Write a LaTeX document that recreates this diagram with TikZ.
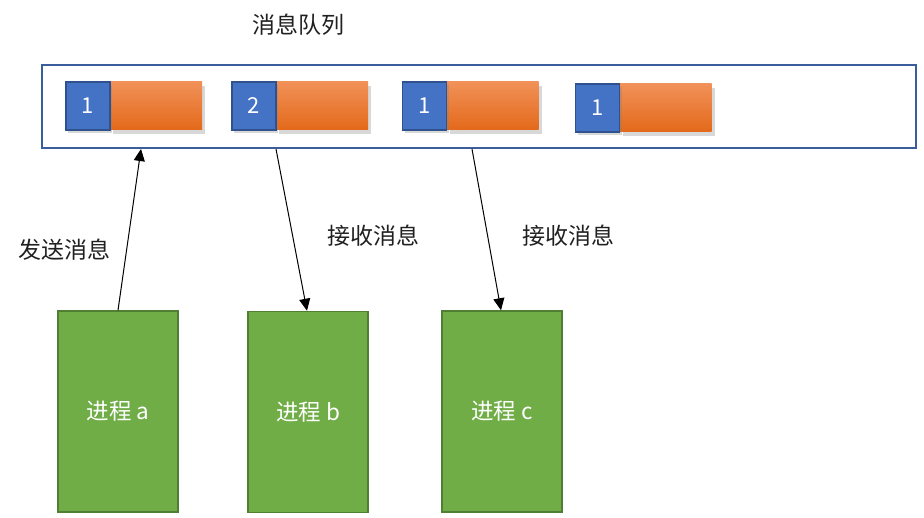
\documentclass[tikz,border=0pt]{standalone}
\usepackage{fontspec}
\setmainfont{Noto Sans CJK SC}
\usetikzlibrary{arrows.meta,shadows,calc}
\definecolor{qborder}{HTML}{3A5E9C}
\definecolor{bluefill}{HTML}{4472C4}
\definecolor{blueborder}{HTML}{2F528F}
\definecolor{orangetop}{HTML}{F19158}
\definecolor{orangebot}{HTML}{E3691A}
\definecolor{greenfill}{HTML}{70AD47}
\definecolor{greenborder}{HTML}{507E32}
\definecolor{txt}{HTML}{202020}
\tikzset{
  queuebox/.style={draw=qborder, line width=2pt, fill=white, minimum width=874pt, minimum height=83pt, inner sep=0pt},
  idbox/.style={draw=blueborder, line width=1.2pt, fill=bluefill, minimum width=44pt, minimum height=48pt, inner sep=0pt, text=white, font=\fontsize{22pt}{24pt}\selectfont, drop shadow={shadow xshift=2pt, shadow yshift=-3pt, opacity=0.3}},
  databox/.style={top color=orangetop, bottom color=orangebot, minimum width=92pt, minimum height=48pt, inner sep=0pt, drop shadow={shadow xshift=3pt, shadow yshift=-4pt, opacity=0.3}},
  procbox/.style={draw=greenborder, line width=1.5pt, fill=greenfill, minimum width=120pt, minimum height=201pt, inner sep=0pt, text=white, font=\fontsize{22.5pt}{24pt}\selectfont},
  lbl/.style={text=txt, font=\fontsize{23pt}{25pt}\selectfont, inner sep=0pt},
  msgarrow/.style={draw=black, line width=1pt, -{Triangle[length=12pt,width=11pt]}}
}
\begin{document}
\begin{tikzpicture}[x=1pt,y=-1pt]
\useasboundingbox (0,0) rectangle (924,518);
\node[queuebox] (queue) at (479,106.5) {};
\node[lbl] (qtitle) at (298.5,25) {消息队列};

\node[databox] (d1) at (156,106) {};
\node[idbox] (i1) at (88,106) {1};
\node[databox] (d2) at (322,106) {};
\node[idbox] (i2) at (254,106) {2};
\node[databox] (d3) at (492.5,106) {};
\node[idbox] (i3) at (424.5,106) {1};
\node[databox] (d4) at (665.5,108) {};
\node[idbox] (i4) at (597.5,108) {1};

\node[procbox] (pa) at (118,411.5) {进程 a};
\node[procbox] (pb) at (308,412) {进程 b};
\node[procbox] (pc) at (502,411.5) {进程 c};

\node[lbl] (send) at (64,249.5) {发送消息};
\node[lbl] (recv1) at (373,235.5) {接收消息};
\node[lbl] (recv2) at (568,235.5) {接收消息};

\draw[msgarrow] (pa.north) -- ($(queue.south west)+(100,0)$);
\draw[msgarrow] ($(queue.south west)+(235,0)$) -- ($(pb.north)+(-1,0)$);
\draw[msgarrow] ($(queue.south west)+(431,0)$) -- ($(pc.north)+(-1,0)$);
\end{tikzpicture}
\end{document}
